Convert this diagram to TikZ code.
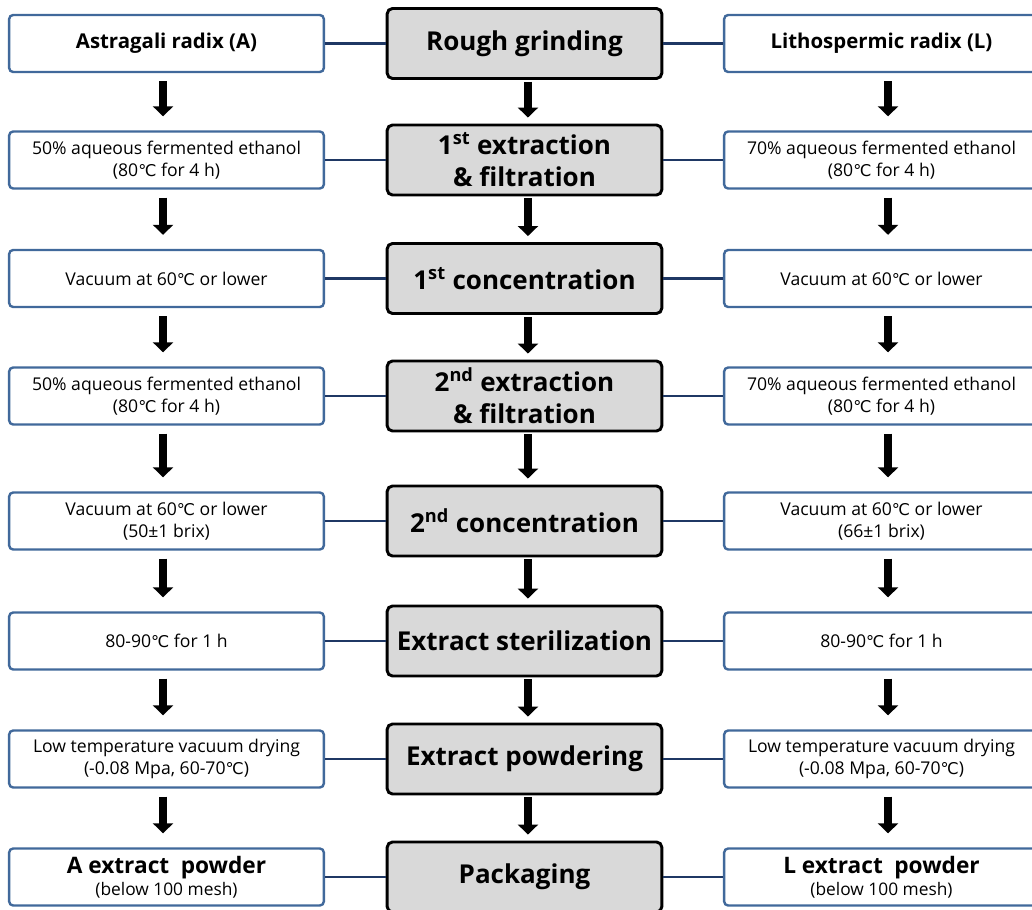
\documentclass[tikz,border=0pt]{standalone}
\usepackage{fontspec}
\setmainfont{Open Sans}
\newfontfamily\djv{DejaVu Sans}[Scale=0.92]
\usetikzlibrary{arrows.meta}
\definecolor{boxblue}{RGB}{65,105,155}
\definecolor{linknavy}{RGB}{31,56,100}
\definecolor{greyfill}{RGB}{217,217,217}
\newcommand\dC{{\djv ℃}}
\begin{document}
\begin{tikzpicture}[x=0.75pt,y=-0.75pt,
 sidebox/.style={draw=boxblue, line width=1.8pt, rounded corners=3pt, fill=white,
   minimum width=236pt, minimum height=42.75pt, align=center,
   font=\fontsize{13.2}{16.5}\selectfont, inner sep=0pt},
 sidebold/.style={sidebox, font=\fontsize{15.3}{18}\selectfont\bfseries},
 mainbox/.style={draw=black, line width=2.2pt, rounded corners=4pt, fill=greyfill,
   minimum width=206pt, minimum height=52.5pt, align=center,
   font=\fontsize{19.5}{24}\selectfont\bfseries, inner sep=0pt},
 link/.style={draw=linknavy, line width=1.7pt},
 flow/.style={line width=6pt, -{Triangle[width=15pt,length=7.5pt]}},
]
\clip (0,0) rectangle (1032,910);
\fill[white] (0,0) rectangle (1032,910);

% row 1
\node[sidebold] (L1) at (166.5,43.5) {Astragali radix (A)};
\node[mainbox]  (C1) at (524.5,43.5) {Rough grinding};
\node[sidebold] (R1) at (881.5,43.5) {Lithospermic radix (L)};
% row 2
\node[sidebox] (L2) at (166.5,160) {50\% aqueous fermented ethanol\\(80\dC{} for 4 h)};
\node[mainbox] (C2) at (524.5,160) {1\textsuperscript{st} extraction\\\& filtration};
\node[sidebox] (R2) at (881.5,160) {70\% aqueous fermented ethanol\\(80\dC{} for 4 h)};
% row 3
\node[sidebox] (L3) at (166.5,278.5) {Vacuum at 60\dC{} or lower};
\node[mainbox] (C3) at (524.5,278.5) {1\textsuperscript{st} concentration};
\node[sidebox] (R3) at (881.5,278.5) {Vacuum at 60\dC{} or lower};
% row 4
\node[sidebox] (L4) at (166.5,396) {50\% aqueous fermented ethanol\\(80\dC{} for 4 h)};
\node[mainbox] (C4) at (524.5,396) {2\textsuperscript{nd} extraction\\\& filtration};
\node[sidebox] (R4) at (881.5,396) {70\% aqueous fermented ethanol\\(80\dC{} for 4 h)};
% row 5
\node[sidebox] (L5) at (166.5,521) {Vacuum at 60\dC{} or lower\\(50±1 brix)};
\node[mainbox] (C5) at (524.5,521) {2\textsuperscript{nd} concentration};
\node[sidebox] (R5) at (881.5,521) {Vacuum at 60\dC{} or lower\\(66±1 brix)};
% row 6
\node[sidebox] (L6) at (166.5,641) {80-90\dC{} for 1 h};
\node[mainbox] (C6) at (524.5,641) {Extract sterilization};
\node[sidebox] (R6) at (881.5,641) {80-90\dC{} for 1 h};
% row 7
\node[sidebox] (L7) at (166.5,759) {Low temperature vacuum drying\\(-0.08 Mpa, 60-70\dC)};
\node[mainbox] (C7) at (524.5,759) {Extract powdering};
\node[sidebox] (R7) at (881.5,759) {Low temperature vacuum drying\\(-0.08 Mpa, 60-70\dC)};
% row 8
\node[sidebox] (L8) at (166.5,877) {{\fontsize{17}{19}\selectfont\bfseries A extract\hspace{0.25em} powder}\\{\fontsize{13}{15}\selectfont (below 100 mesh)}};
\node[mainbox] (C8) at (524.5,877) {Packaging};
\node[sidebox] (R8) at (881.5,877) {{\fontsize{17}{19}\selectfont\bfseries L extract\hspace{0.25em} powder}\\{\fontsize{13}{15}\selectfont (below 100 mesh)}};

% horizontal links
\foreach \i in {1,...,8} {
  \draw[link] (L\i.east) -- (C\i.west);
  \draw[link] (C\i.east) -- (R\i.west);
}

% downward arrows
\foreach \a/\b in {1/2,2/3,3/4,4/5,5/6,6/7,7/8} {
  \draw[flow, shorten <=6pt, shorten >=10.5pt] ([xshift=-2.6pt]L\a.south) -- ([xshift=-2.6pt]L\b.north);
  \draw[flow, shorten <=1.5pt, shorten >=4.5pt] ([xshift=2.6pt]C\a.south) -- ([xshift=2.6pt]C\b.north);
  \draw[flow, shorten <=6pt, shorten >=10.5pt] ([xshift=4.9pt]R\a.south) -- ([xshift=4.9pt]R\b.north);
}
\end{tikzpicture}
\end{document}
